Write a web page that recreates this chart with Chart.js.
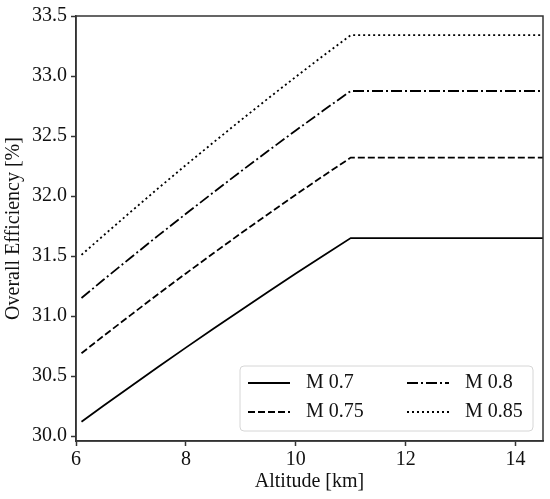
<!DOCTYPE html>
<html lang="en">
<head>
    <meta charset="UTF-8">
    <title>Overall Efficiency vs Altitude</title>
    <script src="https://cdn.jsdelivr.net/npm/chart.js"></script>
    <style>
        html, body { margin: 0; padding: 0; background: #fff; }
        #wrap { width: 550px; height: 499px; }
    </style>
</head>
<body>
    <div id="wrap"><canvas id="effChart" width="550" height="499"></canvas></div>

    <script>
        // values
        const altitude = [6.1, 6.5, 7, 7.5, 8, 8.5, 9, 9.5, 10, 10.5, 11, 12, 13, 14, 14.5];
        const m070 = [30.120, 30.253, 30.416, 30.578, 30.737, 30.894, 31.049, 31.202, 31.354, 31.503, 31.650, 31.650, 31.650, 31.650, 31.650];
        const m075 = [30.690, 30.834, 31.010, 31.185, 31.355, 31.523, 31.689, 31.851, 32.011, 32.167, 32.320, 32.320, 32.320, 32.320, 32.320];
        const m080 = [31.150, 31.302, 31.488, 31.672, 31.852, 32.030, 32.205, 32.377, 32.546, 32.712, 32.875, 32.875, 32.875, 32.875, 32.875];
        const m085 = [31.510, 31.671, 31.870, 32.066, 32.258, 32.446, 32.632, 32.814, 32.993, 33.169, 33.340, 33.340, 33.340, 33.340, 33.340];
        const seriesNames = ['M 0.7', 'M 0.75', 'M 0.8', 'M 0.85'];
        const xTicks = [6, 8, 10, 12, 14];
        const yTicks = [30.0, 30.5, 31.0, 31.5, 32.0, 32.5, 33.0, 33.5];

        const serif = '"Liberation Serif", "Times New Roman", serif';
        const axisColor = '#333';

        const toPoints = ys => altitude.map((x, i) => ({ x: x, y: ys[i] }));
        const dashes = [[], [7, 3], [11, 3, 2, 3], [2, 3]];

        const datasets = [m070, m075, m080, m085].map((ys, i) => ({
            label: seriesNames[i],
            data: toPoints(ys),
            borderColor: '#000',
            borderWidth: 1.8,
            borderDash: dashes[i],
            pointRadius: 0,
            tension: 0,
            fill: false
        }));

        // box around the plot + matplotlib style legend
        const framePlugin = {
            id: 'frame',
            afterDraw(chart) {
                const ctx = chart.ctx;
                const a = chart.chartArea;
                ctx.save();
                ctx.strokeStyle = axisColor;
                ctx.lineWidth = 1.5;
                ctx.strokeRect(a.left, a.top, a.right - a.left, a.bottom - a.top);

                // legend
                const w = 293, h = 65;
                const bx = a.right - 10 - w, by = a.bottom - 10 - h;
                ctx.beginPath();
                ctx.roundRect(bx, by, w, h, 4);
                ctx.fillStyle = 'rgba(255,255,255,0.8)';
                ctx.fill();
                ctx.strokeStyle = '#d6d6d6';
                ctx.lineWidth = 1;
                ctx.stroke();

                ctx.font = '20px ' + serif;
                ctx.textBaseline = 'middle';
                ctx.fillStyle = '#111';
                chart.data.datasets.forEach((ds, i) => {
                    const col = Math.floor(i / 2), row = i % 2;
                    const lx = bx + 8 + col * 159;
                    const ly = by + 17 + row * 29;
                    ctx.beginPath();
                    ctx.setLineDash(ds.borderDash);
                    ctx.strokeStyle = ds.borderColor;
                    ctx.lineWidth = ds.borderWidth;
                    ctx.moveTo(lx, ly);
                    ctx.lineTo(lx + 42, ly);
                    ctx.stroke();
                    ctx.setLineDash([]);
                    ctx.fillText(ds.label, lx + 58, ly);
                });
                ctx.restore();
            }
        };

        new Chart(document.getElementById('effChart'), {
            type: 'line',
            data: { datasets: datasets },
            plugins: [framePlugin],
            options: {
                responsive: false,
                animation: false,
                layout: { padding: { top: 12, right: 7, left: 0, bottom: 0 } },
                plugins: {
                    legend: { display: false },
                    tooltip: { enabled: false }
                },
                scales: {
                    x: {
                        type: 'linear',
                        min: 6,
                        max: 14.5,
                        afterBuildTicks: axis => { axis.ticks = xTicks.map(v => ({ value: v })); },
                        afterFit: scale => { scale.height = 58; },
                        grid: { drawOnChartArea: false, drawTicks: true, tickLength: 5, tickColor: axisColor, tickWidth: 1.5 },
                        border: { display: true, color: axisColor, width: 1.5 },
                        ticks: {
                            padding: 2,
                            maxRotation: 0,
                            color: '#111',
                            font: { family: serif, size: 20 },
                            callback: v => String(v)
                        },
                        title: {
                            display: true,
                            text: 'Altitude [km]',
                            color: '#111',
                            font: { family: serif, size: 20 },
                            padding: { top: 0, bottom: 5 }
                        }
                    },
                    y: {
                        type: 'linear',
                        min: 29.959,
                        max: 33.5,
                        afterBuildTicks: axis => { axis.ticks = yTicks.map(v => ({ value: v })); },
                        afterFit: scale => { scale.width = 76; },
                        grid: { drawOnChartArea: false, drawTicks: true, tickLength: 5, tickColor: axisColor, tickWidth: 1.5 },
                        border: { display: true, color: axisColor, width: 1.5 },
                        ticks: {
                            padding: 4,
                            color: '#111',
                            font: { family: serif, size: 20 },
                            callback: v => Number(v).toFixed(1)
                        },
                        title: {
                            display: true,
                            text: 'Overall Efficiency [%]',
                            color: '#111',
                            font: { family: serif, size: 20 },
                            padding: { top: 2, bottom: 0 }
                        }
                    }
                }
            }
        });
    </script>
</body>
</html>
